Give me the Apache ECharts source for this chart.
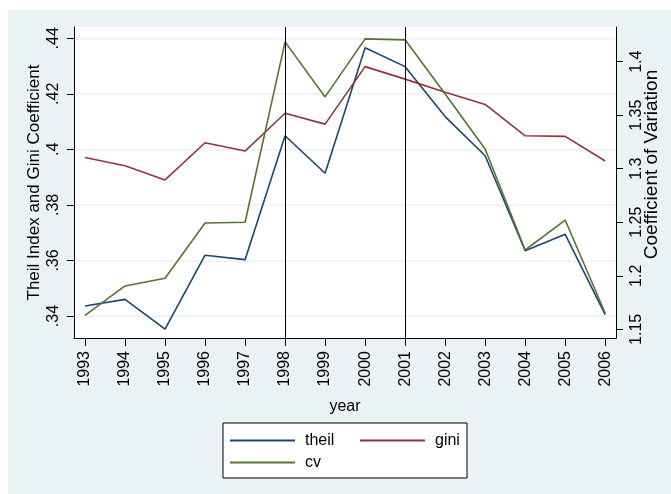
<!DOCTYPE html>
<html>
<head>
<meta charset="utf-8">
<script src="https://cdn.jsdelivr.net/npm/echarts@6/dist/echarts.min.js"></script>
<style>
html, body { margin: 0; padding: 0; background: #fff; }
#chart { width: 671px; height: 494px; }
</style>
</head>
<body>
<div id="chart"></div>
<script>
const years = [1993, 1994, 1995, 1996, 1997, 1998, 1999, 2000, 2001, 2002, 2003, 2004, 2005, 2006]
const theil = [0.3436, 0.3460, 0.3353, 0.3619, 0.3603, 0.4049, 0.3914, 0.4366, 0.4298, 0.4118, 0.3977, 0.3635, 0.3694, 0.3405]
const gini = [0.3971, 0.3941, 0.3890, 0.4024, 0.3994, 0.4130, 0.4091, 0.4298, 0.4253, 0.4206, 0.4162, 0.4049, 0.4047, 0.3958]
const cv = [1.1631, 1.1905, 1.1977, 1.2493, 1.2500, 1.4185, 1.3671, 1.4213, 1.4204, 1.3699, 1.3185, 1.2241, 1.2521, 1.1650]
const leftTicks = [0.34, 0.36, 0.38, 0.40, 0.42, 0.44]
const rightTicks = [1.15, 1.2, 1.25, 1.3, 1.35, 1.4]
const markYears = [1998, 2001]

const font = "'Liberation Sans', Arial, sans-serif"
const bg = '#eaf2f3'

const chart = echarts.init(document.getElementById('chart'))

function pairs(vals) {
    return years.map((y, i) => [y, vals[i]])
}

// stata style: .34 instead of 0.34
function stataNum(v) {
    return String(+v.toFixed(2)).replace(/^0\./, '.')
}

const option = {
    animation: false,
    textStyle: { fontFamily: font },
    graphic: [{
        type: 'rect',
        z: -10,
        silent: true,
        shape: { x: 8, y: 10, width: 663, height: 484 },
        style: { fill: bg }
    }],
    grid: {
        left: 74,
        right: 55,
        top: 27,
        bottom: 156,
        show: true,
        backgroundColor: '#fff',
        borderWidth: 0,
        containLabel: false,
        outerBoundsMode: 'none'
    },
    legend: {
        left: 223,
        top: 423,
        width: 300,
        padding: [9, 2, 7, 7],
        itemGap: 5,
        itemWidth: 65,
        itemHeight: 2,
        icon: 'rect',
        selectedMode: false,
        backgroundColor: '#fff',
        borderColor: '#000',
        borderWidth: 1,
        borderRadius: 0,
        textStyle: { fontSize: 16, color: '#000', fontFamily: font, lineHeight: 17, padding: [0, 0, 0, 5] },
        data: [
            { name: 'theil', textStyle: { width: 50 } },
            { name: 'gini', textStyle: { width: 30 } },
            { name: 'cv', textStyle: { width: 50 } }
        ]
    },
    xAxis: {
        type: 'value',
        min: 1992.725,
        max: 2006.27,
        name: 'year',
        nameLocation: 'middle',
        nameGap: 61,
        nameMoveOverlap: false,
        nameTextStyle: { fontSize: 16, color: '#000', fontFamily: font },
        axisLine: { show: true, onZero: false, lineStyle: { color: '#000', width: 1 } },
        axisTick: { show: true, length: 8, customValues: years, lineStyle: { color: '#000' } },
        axisLabel: {
            customValues: years,
            rotate: 90,
            margin: 13,
            fontSize: 16,
            color: '#000',
            fontFamily: font,
            formatter: v => String(v)
        },
        splitLine: { show: false }
    },
    yAxis: [{
        type: 'value',
        position: 'left',
        min: 0.33208,
        max: 0.44407,
        name: 'Theil Index and Gini Coefficient',
        nameLocation: 'middle',
        nameGap: 31,
        nameMoveOverlap: false,
        nameTextStyle: { fontSize: 17, color: '#000', fontFamily: font },
        axisLine: { show: true, onZero: false, lineStyle: { color: '#000', width: 1 } },
        axisTick: { show: true, length: 7, customValues: leftTicks, lineStyle: { color: '#000' } },
        axisLabel: {
            customValues: leftTicks,
            rotate: 90,
            margin: 12,
            fontSize: 16,
            color: '#000',
            fontFamily: font,
            formatter: stataNum
        },
        splitLine: { show: true, lineStyle: { color: bg, width: 1.5 } }
    }, {
        type: 'value',
        position: 'right',
        min: 1.1419,
        max: 1.4324,
        name: 'Coefficient of Variation',
        nameLocation: 'middle',
        nameGap: 26,
        nameMoveOverlap: false,
        nameTextStyle: { fontSize: 19, color: '#000', fontFamily: font, padding: [0, 0, 0, 36] },
        axisLine: { show: true, onZero: false, lineStyle: { color: '#000', width: 1 } },
        axisTick: { show: true, length: 7, customValues: rightTicks, lineStyle: { color: '#000' } },
        axisLabel: {
            customValues: rightTicks,
            rotate: 90,
            margin: 13,
            fontSize: 16,
            color: '#000',
            fontFamily: font,
            formatter: stataNum
        },
        splitLine: { show: false }
    }],
    series: [{
        name: 'theil',
        type: 'line',
        data: pairs(theil),
        symbol: 'none',
        color: '#1a476f',
        lineStyle: { width: 1.6, color: '#1a476f' },
        markLine: {
            silent: true,
            symbol: 'none',
            label: { show: false },
            lineStyle: { color: '#000', width: 1, type: 'solid' },
            data: markYears.map(y => ({ xAxis: y }))
        }
    }, {
        name: 'gini',
        type: 'line',
        data: pairs(gini),
        symbol: 'none',
        color: '#90353b',
        lineStyle: { width: 1.6, color: '#90353b' }
    }, {
        name: 'cv',
        type: 'line',
        yAxisIndex: 1,
        data: pairs(cv),
        symbol: 'none',
        color: '#55752f',
        lineStyle: { width: 1.6, color: '#55752f' }
    }]
}

chart.setOption(option)
</script>
</body>
</html>
